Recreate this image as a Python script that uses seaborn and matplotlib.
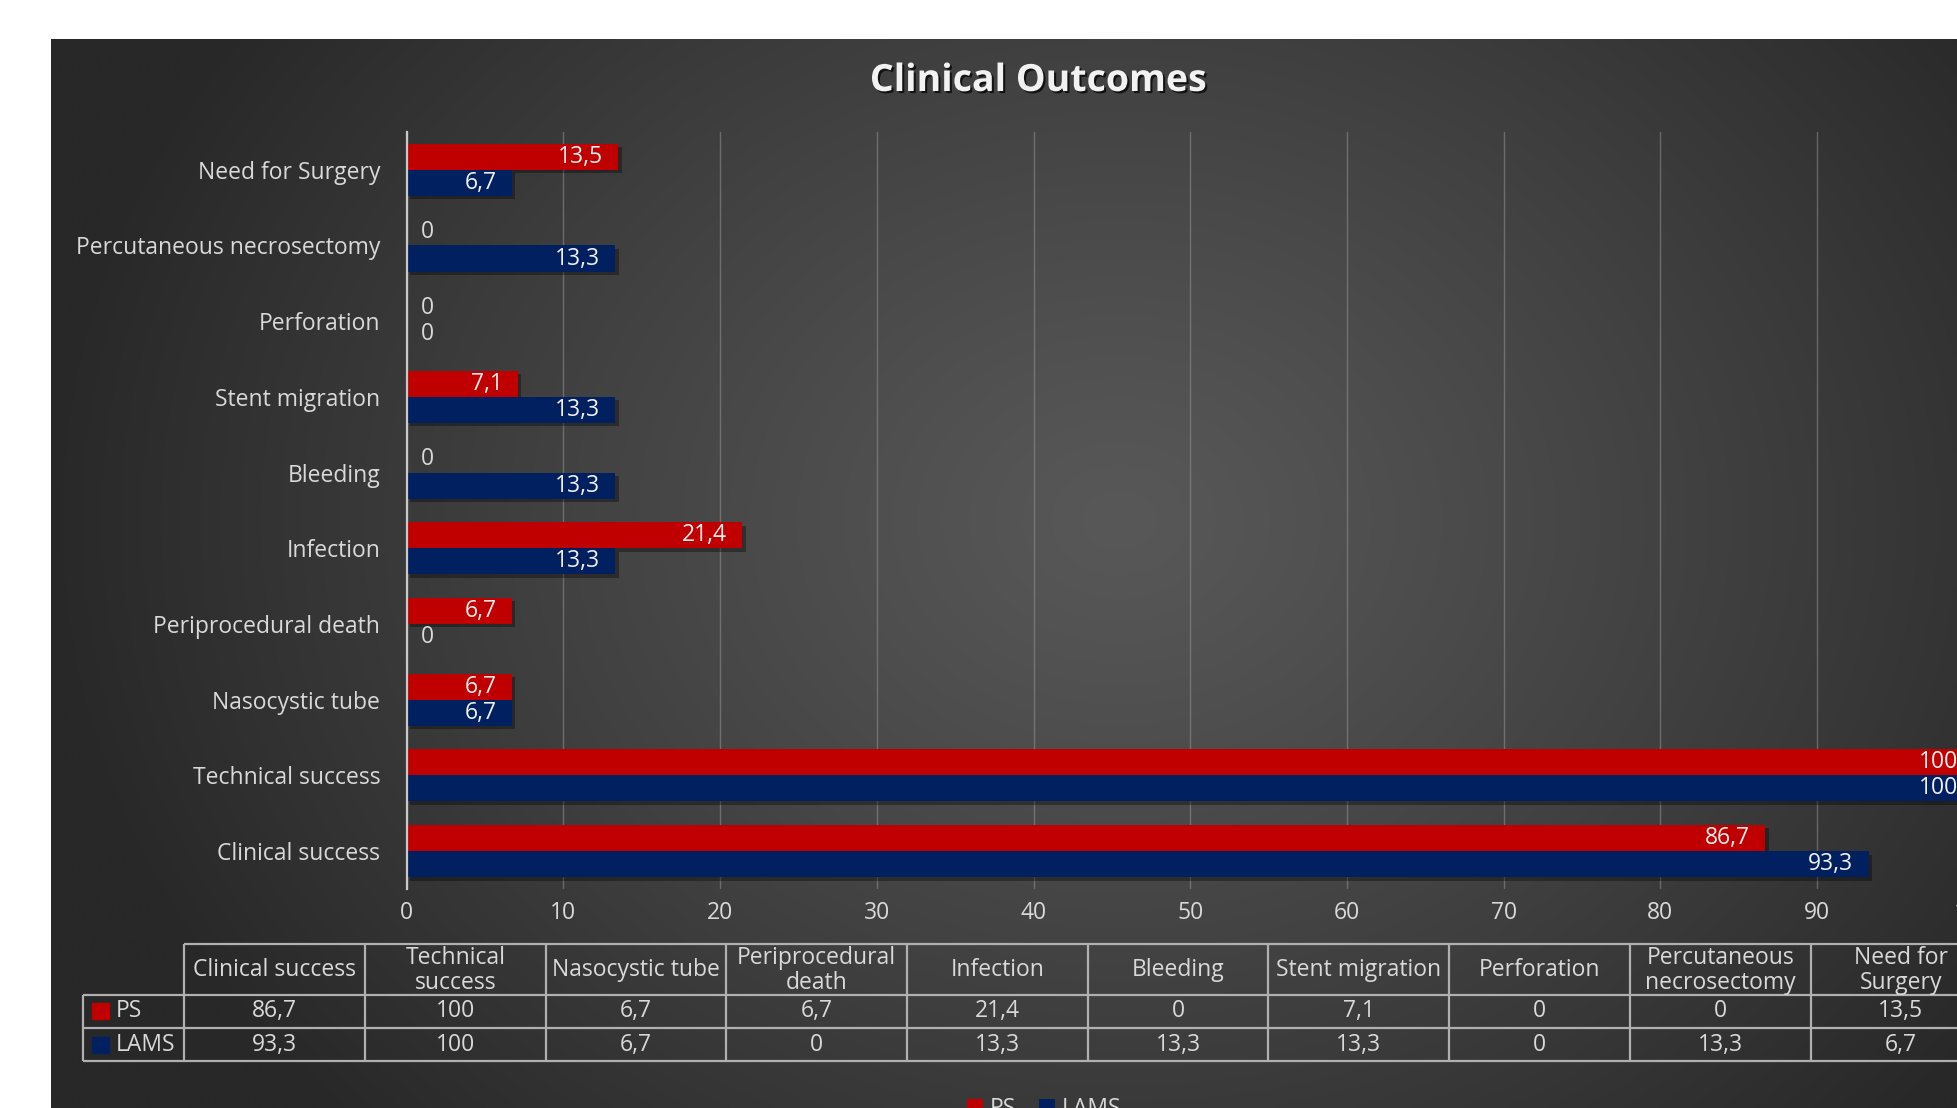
import numpy as np
import pandas as pd
import matplotlib
matplotlib.use("Agg")
import matplotlib.pyplot as plt
import matplotlib.patheffects as pe
from matplotlib.patches import Patch, Rectangle
import seaborn as sns

# ---------------- data ----------------
categories = ["Clinical success", "Technical success", "Nasocystic tube",
              "Periprocedural death", "Infection", "Bleeding", "Stent migration",
              "Perforation", "Percutaneous necrosectomy", "Need for Surgery"]
table_headers = ["Clinical success", "Technical\nsuccess", "Nasocystic tube",
                 "Periprocedural\ndeath", "Infection", "Bleeding", "Stent migration",
                 "Perforation", "Percutaneous\nnecrosectomy", "Need for\nSurgery"]
ps_values = [86.7, 100, 6.7, 6.7, 21.4, 0, 7.1, 0, 0, 13.5]
lams_values = [93.3, 100, 6.7, 0, 13.3, 13.3, 13.3, 0, 13.3, 6.7]
series = ["PS", "LAMS"]
x_ticks = [0, 10, 20, 30, 40, 50, 60, 70, 80, 90, 100]
title = "Clinical Outcomes"

# ---------------- style ----------------
W, H = 1957, 1108
RED, BLUE = "#C00000", "#002060"
palette = {"PS": RED, "LAMS": BLUE}
TXT = "#d9d9d9"
FONT = ["Open Sans", "DejaVu Sans"]
FS = 16.5

plt.rcParams["font.family"] = FONT


def fmt(v):
    return f"{v:g}".replace(".", ",")


df = pd.DataFrame({
    "category": categories * 2,
    "series": ["PS"] * len(categories) + ["LAMS"] * len(categories),
    "value": ps_values + lams_values,
})
cat_order = categories[::-1]  # top row first

fig = plt.figure(figsize=(W / 100, H / 100), dpi=100, facecolor="white")

# ---------- dark radial-gradient panel ----------
px0, py0 = 51, 39
bg = fig.add_axes([px0 / W, 0, 1 - px0 / W, 1 - py0 / H], zorder=0)
xs = np.linspace(px0, W, 300)
ys = np.linspace(py0, H, 200)
XX, YY = np.meshgrid(xs, ys)
cx, cy, rx, ry = 1120, 520, 1080, 880
r = np.clip(np.sqrt(((XX - cx) / rx) ** 2 + ((YY - cy) / ry) ** 2), 0, 1)
lvl = (0x58 - (0x58 - 0x28) * r ** 1.15) / 255.0
img = np.dstack([lvl, lvl, lvl])
bg.imshow(img, aspect="auto", extent=(0, 1, 0, 1), interpolation="bilinear")
bg.set_axis_off()

# ---------- main bar chart ----------
ax = fig.add_axes([406.7 / W, 1 - 888.9 / H, 1567 / W, 757 / H], zorder=2)
ax.set_facecolor("none")
sns.barplot(data=df, x="value", y="category", hue="series", order=cat_order,
            hue_order=series, palette=palette, orient="h", width=0.69,
            saturation=1, legend=False, ax=ax, errorbar=None)
ax.set_xlim(0, 100)
ax.set_ylim(9.5, -0.5)
ax.set_xlabel("")
ax.set_ylabel("")
ax.set_xticks(x_ticks)
ax.set_axisbelow(True)
ax.xaxis.grid(True, color="#9a9a9a", lw=1.0, alpha=0.5)
ax.yaxis.grid(False)
for s in ["top", "right", "bottom"]:
    ax.spines[s].set_visible(False)
ax.spines["left"].set_color("#c8c8c8")
ax.spines["left"].set_linewidth(1.6)
ax.tick_params(axis="x", length=0, pad=9, labelsize=FS, labelcolor=TXT)
ax.tick_params(axis="y", length=0, pad=19, labelsize=FS, labelcolor=TXT)

for container in ax.containers:
    for patch, v in zip(container.patches, container.datavalues):
        patch.set_edgecolor("none")
        patch.set_path_effects([pe.withSimplePatchShadow(offset=(2.5, -2.5),
                                                         shadow_rgbFace="black",
                                                         alpha=0.35)])
        yc = patch.get_y() + patch.get_height() / 2
        w = patch.get_width()
        if w > 0:
            ax.annotate(fmt(v), (w, yc), xytext=(-11, 0), textcoords="offset points",
                        ha="right", va="center", fontsize=FS, color="#f0f0f0")
        else:
            ax.annotate(fmt(v), (w, yc), xytext=(10, 0), textcoords="offset points",
                        ha="left", va="center", fontsize=FS, color=TXT)

# ---------- title ----------
fig.text(1038 / W, 1 - 81 / H, title, ha="center", va="center", fontsize=27,
         weight="bold", color="#f2f2f2",
         path_effects=[pe.withSimplePatchShadow(offset=(1.5, -1.5),
                                                shadow_rgbFace="black", alpha=0.7)])

# ---------- data table ----------
col_w = 180.7
row_edges = [0, 50.7, 84.0, 117.3]
lab_left = -101.0
tax = fig.add_axes([184.3 / W, 1 - 1061.3 / H, col_w * 10 / W, 117.3 / H], zorder=3)
tax.set_xlim(0, col_w * 10)
tax.set_ylim(row_edges[-1], 0)
tax.set_axis_off()
LC, LW = "#b0b0b0", 1.6
tax.hlines(row_edges[0], 0, col_w * 10, color=LC, lw=LW, clip_on=False)
for yb in row_edges[1:]:
    tax.hlines(yb, lab_left, col_w * 10, color=LC, lw=LW, clip_on=False)
for i in range(11):
    tax.vlines(i * col_w, 0, row_edges[-1], color=LC, lw=LW, clip_on=False)
tax.vlines(lab_left, row_edges[1], row_edges[-1], color=LC, lw=LW, clip_on=False)

for i, hdr in enumerate(table_headers):
    tax.text((i + 0.5) * col_w, (row_edges[0] + row_edges[1]) / 2 + 1, hdr,
             ha="center", va="center", fontsize=FS, color=TXT, linespacing=1.08,
             clip_on=False)
for r_i, (name, vals) in enumerate(zip(series, [ps_values, lams_values])):
    yc = (row_edges[r_i + 1] + row_edges[r_i + 2]) / 2
    for i, v in enumerate(vals):
        tax.text((i + 0.5) * col_w, yc, fmt(v), ha="center", va="center",
                 fontsize=FS, color=TXT, clip_on=False)
    tax.add_patch(Rectangle((lab_left + 8.5, yc - 8), 17, 16, color=palette[name],
                            clip_on=False))
    tax.text(lab_left + 32, yc, name, ha="left", va="center", fontsize=FS,
             color=TXT, clip_on=False)

# ---------- legend ----------
handles = [Patch(facecolor=palette[s], edgecolor="none") for s in series]
fig.legend(handles, series, loc="center", bbox_to_anchor=(1044 / W, 1 - 1109 / H),
           ncol=2, frameon=False, handlelength=0.7, handleheight=0.7,
           handletextpad=0.3, columnspacing=1.0, fontsize=FS, labelcolor=TXT)

fig.savefig("out.png", dpi=100, facecolor="white")
